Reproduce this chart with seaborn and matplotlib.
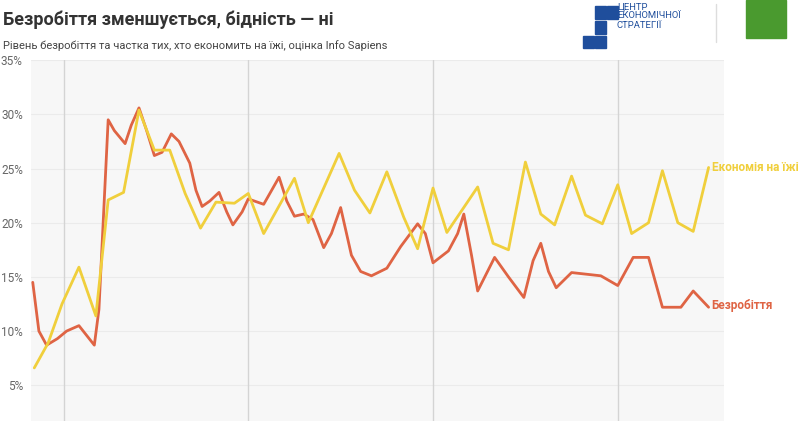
import numpy as np
import pandas as pd
import seaborn as sns
from matplotlib import pyplot as plt
from matplotlib.ticker import FuncFormatter

# months since start of series
unemp_month = [0, 0.4, 0.9, 1.6, 2.2, 3.0, 4.0, 4.3, 4.9, 5.3, 6.0, 6.4, 6.9, 7.4, 7.9, 8.4,
               9.0, 9.5, 10.2, 10.6, 11.0, 11.5, 12.1, 12.6, 13.0, 13.6, 14.0, 15.0, 16.0,
               16.5, 17.0, 17.6, 18.2, 18.9, 19.4, 20.0, 20.7, 21.3, 22.0, 23.0, 23.9, 25.0,
               25.5, 26.0, 27.0, 27.6, 28.0, 28.5, 28.9, 30.0, 30.9, 31.9, 32.5, 33.0, 33.5,
               34.0, 35.0, 36.9, 38.0, 39.0, 40.0, 40.9, 42.1, 42.9, 43.9]
unemp_value = [14.5, 10.0, 8.7, 9.3, 10.0, 10.5, 8.7, 12.0, 29.5, 28.5, 27.3, 29.0, 30.6, 28.5,
               26.2, 26.5, 28.2, 27.5, 25.5, 23.0, 21.5, 22.0, 22.8, 21.0, 19.8, 21.0, 22.2,
               21.7, 24.2, 22.0, 20.6, 20.8, 20.3, 17.7, 19.0, 21.4, 17.0, 15.5, 15.1, 15.8,
               17.8, 19.9, 19.0, 16.3, 17.4, 19.0, 20.8, 17.0, 13.7, 16.8, 15.0, 13.1, 16.5,
               18.1, 15.5, 14.0, 15.4, 15.1, 14.2, 16.8, 16.8, 12.2, 12.2, 13.7, 12.2]

food_month = [0.1, 1.0, 1.9, 3.0, 4.1, 4.9, 5.9, 6.9, 7.9, 8.9, 9.9, 10.9, 11.9, 13.1, 14.0,
              15.0, 17.0, 17.9, 19.9, 20.9, 21.9, 23.0, 24.1, 25.0, 26.0, 26.9, 28.9, 29.9,
              30.9, 32.0, 33.0, 33.9, 35.0, 35.9, 37.0, 38.0, 38.9, 40.0, 40.9, 41.9, 42.9, 43.9]
food_value = [6.6, 8.9, 12.5, 15.9, 11.4, 22.1, 22.8, 30.4, 26.7, 26.7, 22.7, 19.5, 21.9, 21.8,
              22.7, 19.0, 24.1, 20.0, 26.4, 23.0, 20.9, 24.7, 20.5, 17.6, 23.2, 19.1, 23.3,
              18.1, 17.5, 25.6, 20.8, 19.8, 24.3, 20.7, 19.9, 23.5, 19.0, 20.0, 24.8, 20.0,
              19.2, 25.1]

year_lines = [2, 14, 26, 38]
y_ticks = [5, 10, 15, 20, 25, 30, 35]

red = "#df6444"
yellow = "#f0cf3c"

sns.set_theme(style="white")
plt.rcParams['font.family'] = ['Roboto', 'DejaVu Sans']

fig = plt.figure(figsize=(8, 4.21), dpi=100)
fig.patch.set_facecolor("white")
ax = fig.add_axes([0.039, 0.0, 0.866, 0.857])
ax.set_facecolor("#f7f7f7")

for yl in year_lines:
    ax.axvline(yl, color="#d4d4d4", lw=1, zorder=1)
for t in y_ticks:
    ax.axhline(t, color="#ebebeb", lw=0.8, zorder=0)

df_u = pd.DataFrame({"month": unemp_month, "value": unemp_value})
df_f = pd.DataFrame({"month": food_month, "value": food_value})
sns.lineplot(data=df_u, x="month", y="value", color=red, lw=2, ax=ax, zorder=3)
sns.lineplot(data=df_f, x="month", y="value", color=yellow, lw=2, ax=ax, zorder=4)

ax.set_xlim(-0.1, 44.9)
ax.set_ylim(1.7, 35)
ax.set_xticks([])
ax.set_yticks(y_ticks)
ax.yaxis.set_major_formatter(FuncFormatter(lambda v, p: f"{v:.0f}%"))
ax.tick_params(axis="y", labelsize=8.5, colors="#666666", pad=6, length=0)
ax.set_xlabel("")
ax.set_ylabel("")
for s in ax.spines.values():
    s.set_visible(False)

ax.text(44.1, food_value[-1], "Економія на їжі", color=yellow, fontsize=8.5,
        fontweight="bold", va="center", ha="left", clip_on=False)
ax.text(44.1, unemp_value[-1] + 0.2, "Безробіття", color=red, fontsize=8.5,
        fontweight="bold", va="center", ha="left", clip_on=False)

fig.text(0.004, 0.975, "Безробіття зменшується, бідність — ні", fontsize=13,
         fontweight="bold", color="#333333", va="top")
fig.text(0.004, 0.905, "Рівень безробіття та частка тих, хто економить на їжі, оцінка Info Sapiens",
         fontsize=8, color="#444444", va="top")
fig.text(0.771, 0.995, "ЦЕНТР\nЕКОНОМІЧНОЇ\nСТРАТЕГІЇ", fontsize=6.8, color="#1f4e9c",
         va="top", ha="left", linespacing=1.05)
# stair-shaped logo mark
for (x0, y0) in [(0.729, 0.885), (0.744, 0.885), (0.744, 0.92), (0.744, 0.955), (0.759, 0.955)]:
    fig.patches.append(plt.Rectangle((x0, y0), 0.013, 0.03, transform=fig.transFigure,
                                     color="#1f4e9c"))
fig.patches.append(plt.Line2D([0.895, 0.895], [0.9, 0.99], transform=fig.transFigure,
                              color="#dddddd", lw=1))
fig.patches.append(plt.Rectangle((0.932, 0.91), 0.05, 0.09, transform=fig.transFigure,
                                 color="#4a9a2f"))

fig.savefig("out.png", dpi=100, facecolor="white")
